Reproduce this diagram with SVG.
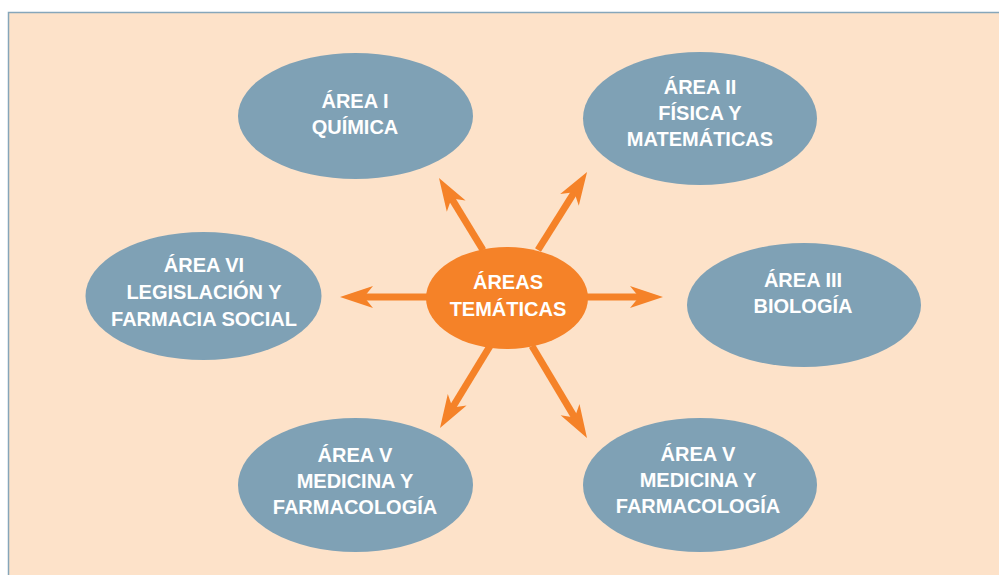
<svg xmlns="http://www.w3.org/2000/svg" width="999" height="575" viewBox="0 0 999 575">
<style>
.node{fill:#7fa1b5}
.hub{fill:#f58228}
.lbl{font-family:"Liberation Sans",Arial,sans-serif;font-weight:bold;font-size:20px;fill:#ffffff;text-anchor:middle}
.conn{stroke:#f58228;stroke-width:7;fill:none;marker-end:url(#head)}
</style>
<defs>
<marker id="head" markerUnits="userSpaceOnUse" orient="auto" refX="0" refY="0" markerWidth="40" markerHeight="30" viewBox="-22 -13 40 26" overflow="visible">
<path d="M14,0 L-19,-11 L-10,0 L-19,11 Z" fill="#f58228"/>
</marker>
</defs>
<rect x="0" y="0" width="999" height="575" fill="#ffffff"/>
<rect x="8.5" y="12.5" width="1000" height="580" fill="#fde2c9" stroke="#86a6ba" stroke-width="1.5"/>
<g id="connectors">
<line class="conn" x1="586" y1="297" x2="649" y2="297"/>
<line class="conn" x1="428" y1="297" x2="354" y2="297"/>
<line class="conn" x1="483" y1="250" x2="446.3" y2="189.9"/>
<line class="conn" x1="538" y1="250" x2="579.6" y2="183.9"/>
<line class="conn" x1="490" y1="346" x2="447.3" y2="416"/>
<line class="conn" x1="532" y1="346" x2="579.8" y2="426"/>
</g>
<g id="area1">
<ellipse class="node" cx="355.5" cy="116" rx="117.5" ry="63"/>
<text class="lbl" x="355" y="108">ÁREA I</text>
<text class="lbl" x="355" y="134">QUÍMICA</text>
</g>
<g id="area2">
<ellipse class="node" cx="700" cy="118.5" rx="117" ry="66.5"/>
<text class="lbl" x="700" y="94">ÁREA II</text>
<text class="lbl" x="700" y="120">FÍSICA Y</text>
<text class="lbl" x="700" y="146">MATEMÁTICAS</text>
</g>
<g id="area3">
<ellipse class="node" cx="804" cy="305" rx="117" ry="62"/>
<text class="lbl" x="803" y="287">ÁREA III</text>
<text class="lbl" x="803" y="313">BIOLOGÍA</text>
</g>
<g id="area6">
<ellipse class="node" cx="203.5" cy="296" rx="118" ry="64"/>
<text class="lbl" x="204" y="272">ÁREA VI</text>
<text class="lbl" x="204" y="299">LEGISLACIÓN Y</text>
<text class="lbl" x="204" y="326">FARMACIA SOCIAL</text>
</g>
<g id="area5a">
<ellipse class="node" cx="355.5" cy="485" rx="117.5" ry="67"/>
<text class="lbl" x="355" y="462">ÁREA V</text>
<text class="lbl" x="355" y="488">MEDICINA Y</text>
<text class="lbl" x="355" y="514">FARMACOLOGÍA</text>
</g>
<g id="area5b">
<ellipse class="node" cx="700" cy="485" rx="117" ry="67"/>
<text class="lbl" x="698" y="461">ÁREA V</text>
<text class="lbl" x="698" y="487">MEDICINA Y</text>
<text class="lbl" x="698" y="513">FARMACOLOGÍA</text>
</g>
<g id="hub">
<ellipse class="hub" cx="507" cy="298" rx="81" ry="51"/>
<text class="lbl" x="508" y="289">ÁREAS</text>
<text class="lbl" x="508" y="316">TEMÁTICAS</text>
</g>
</svg>
